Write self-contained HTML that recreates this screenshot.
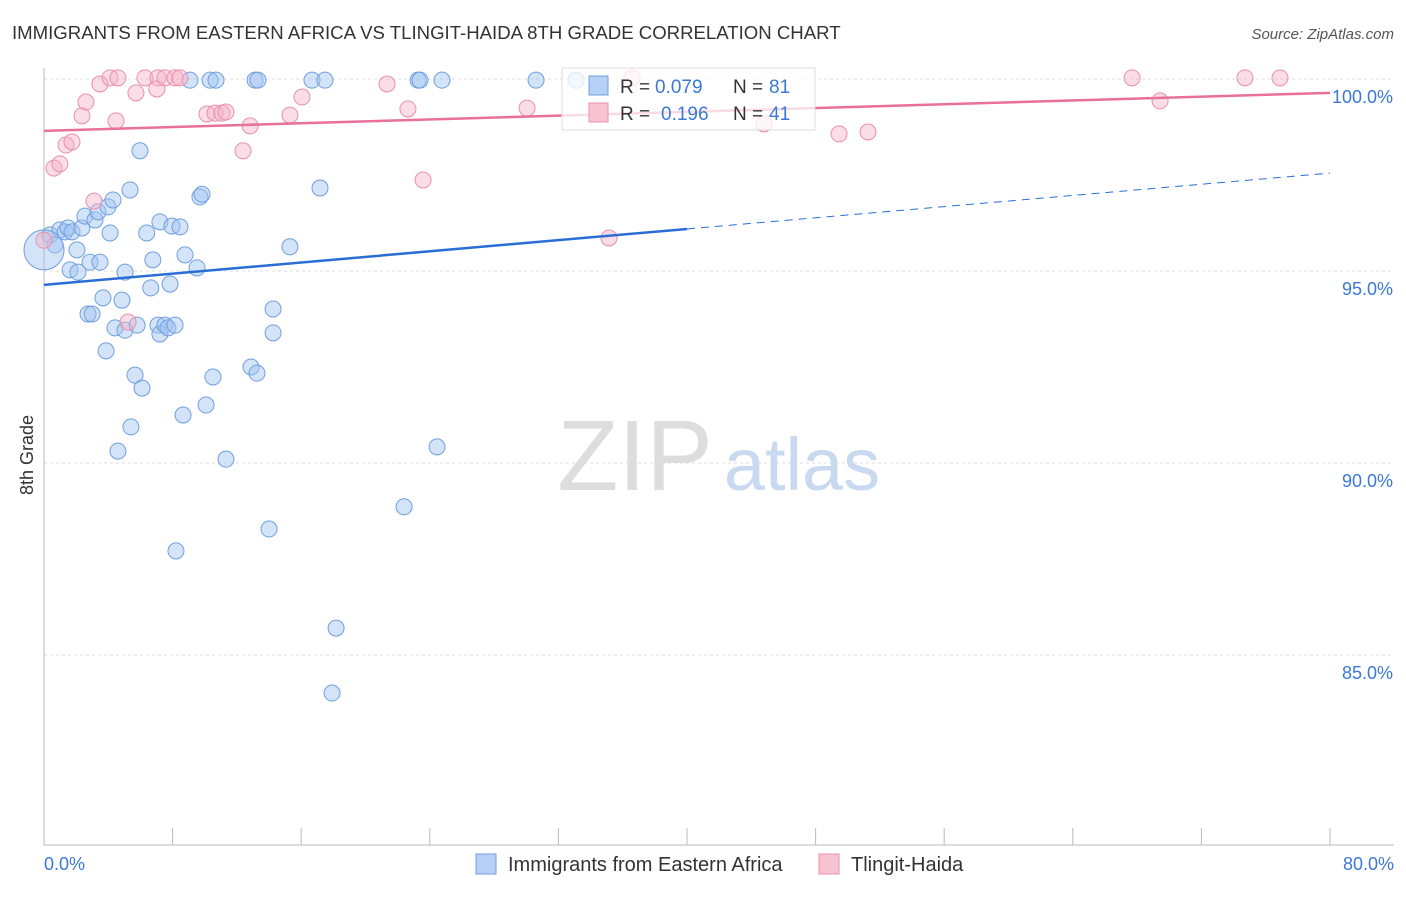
<!DOCTYPE html>
<html><head><meta charset="utf-8"><style>
body{margin:0;background:#fff;font-family:"Liberation Sans",sans-serif;}
svg text{font-family:"Liberation Sans",sans-serif;}
</style></head><body>
<svg id="chart" width="1406" height="892">
<text x="12" y="39" font-size="18.6" fill="#333">IMMIGRANTS FROM EASTERN AFRICA VS TLINGIT-HAIDA 8TH GRADE CORRELATION CHART</text>
<text x="1394" y="39" font-size="15" fill="#555" font-style="italic" text-anchor="end">Source: ZipAtlas.com</text>
<text x="33" y="455" font-size="18" fill="#333" transform="rotate(-90 33 455)" text-anchor="middle">8th Grade</text>
<g id="grid"></g>
<g><text x="635" y="490" font-size="100" fill="#ddd" font-family="Liberation Serif" text-anchor="middle">ZIP</text><text x="802" y="490" font-size="74" fill="#c9daf0" text-anchor="middle">atlas</text></g>
<g id="points"></g>
<g id="lines"></g>
<g>
<rect x="562" y="68" width="253" height="62" fill="#fff" fill-opacity="0.75" stroke="#ddd"/>
<rect x="589" y="76" width="19" height="19" fill="#b6d0f5" stroke="#6f9fe0"/>
<text x="620" y="93" font-size="19" fill="#333">R =</text>
<text x="655" y="93" font-size="19" fill="#3b78d8">0.079</text>
<text x="733" y="93" font-size="19" fill="#333">N =</text>
<text x="769" y="93" font-size="19" fill="#3b78d8">81</text>
<rect x="589" y="103" width="19" height="19" fill="#f8c4d2" stroke="#eb8fac"/>
<text x="620" y="120" font-size="19" fill="#333">R =</text>
<text x="661" y="120" font-size="19" fill="#3b78d8">0.196</text>
<text x="733" y="120" font-size="19" fill="#333">N =</text>
<text x="769" y="120" font-size="19" fill="#3b78d8">41</text>
</g>
<g>
<rect x="476" y="854" width="20" height="20" fill="#b6d0f5" stroke="#6f9fe0"/>
<text x="508" y="871" font-size="20" fill="#333">Immigrants from Eastern Africa</text>
<rect x="819" y="854" width="20" height="20" fill="#f8c4d2" stroke="#eb8fac"/>
<text x="851" y="871" font-size="20" fill="#333">Tlingit-Haida</text>
</g>
</svg>
<script>
const yTicks=[100,95,90,85];
const yTickLabels=["100.0%","95.0%","90.0%","85.0%"];
const xTickLabels=["0.0%","80.0%"];
const blueX=[0.37,0.68,0.99,1.31,1.49,1.74,1.62,2.05,2.11,2.36,2.55,3.17,3.36,2.86,3.48,3.98,4.29,4.11,5.35,5.97,3.67,4.85,5.04,2.74,2.99,4.42,5.04,5.79,3.86,5.66,6.10,5.41,4.60,6.39,6.77,6.64,7.21,7.09,7.21,7.52,7.71,8.15,7.84,7.96,8.46,8.77,9.52,9.70,9.83,9.08,10.33,10.70,13.13,13.31,16.67,17.48,23.27,23.39,24.76,30.61,33.1,15.30,17.17,14.25,14.25,12.88,13.25,10.51,10.08,8.65,11.32,8.21,14.0,22.40,24.45,18.17,17.92,0];
const blueY=[95.94,95.68,96.07,96.02,96.12,96.02,95.03,95.55,94.97,96.12,96.43,96.33,96.54,95.23,95.23,96.67,96.85,95.99,97.11,98.13,94.30,94.24,94.97,93.88,93.88,93.52,93.46,93.59,92.92,92.29,91.95,90.94,90.31,95.99,95.29,94.56,96.28,93.59,93.36,93.59,93.52,93.59,94.66,96.17,96.15,95.42,95.08,96.93,97.00,99.97,99.97,99.97,99.97,99.97,99.97,99.97,99.97,99.97,99.97,99.97,99.97,95.63,97.16,94.01,93.39,92.50,92.34,92.24,91.51,91.25,90.10,87.71,88.28,88.86,90.42,85.70,84.01,95.55];
const pinkX=[0.62,0.99,1.37,1.74,2.36,2.61,3.11,3.48,4.11,4.60,4.48,5.72,5.23,6.28,7.09,7.02,7.52,8.15,8.46,10.14,10.64,11.07,11.32,12.82,12.38,15.30,16.05,21.34,22.64,23.58,30.05,35.15,36.58,44.79,49.46,51.26,67.69,69.43,74.71,76.89,0];
const pinkY=[97.68,97.79,98.28,98.36,99.04,99.40,96.82,99.87,100.03,100.03,98.91,99.64,93.67,100.03,100.03,99.74,100.03,100.03,100.03,99.09,99.11,99.11,99.14,98.78,98.13,99.06,99.53,99.87,99.22,97.37,99.24,95.86,100.03,98.83,98.57,98.62,100.03,99.43,100.03,100.03,95.8];
const blueTrend=[94.64,97.55];
const pinkTrend=[98.65,99.64];
const NS="http://www.w3.org/2000/svg";
const X=v=>44+v/80*1286, Y=v=>79+(100-v)/5*192;
function mk(t,a,p){const e=document.createElementNS(NS,t);for(const k in a)e.setAttribute(k,a[k]);p.appendChild(e);return e;}
const g=document.getElementById('grid');
yTicks.forEach((t,i)=>{
 const l=mk('line',{x1:44,x2:1394,y1:Y(t),y2:Y(t),stroke:'#ddd','stroke-dasharray':'3,3'},g);
 
 
 const tx=mk('text',{x:1393,y:Y(t)+24,'font-size':18,fill:'#3b78d8','text-anchor':'end'},g);tx.textContent=yTickLabels[i];
 
 
});
mk('line',{x1:44,x2:44,y1:68,y2:845,stroke:'#bbb'},g);
mk('line',{x1:44,x2:1394,y1:845,y2:845,stroke:'#bbb'},g);
for(let i=0;i<=10;i++){const t=mk('line',{x1:X(i*8),x2:X(i*8),y1:828,y2:845,stroke:'#bbb'},g);
 
 }
[[0,'start',44],[80,'end',1394]].forEach((d,i)=>{const tx=mk('text',{x:d[2],y:870,'font-size':18,fill:'#3b78d8','text-anchor':d[1]},g);tx.textContent=xTickLabels[i];
 
 });
const p=document.getElementById('points');
blueX.forEach((x,i)=>{const c=mk('circle',{cx:X(x),cy:Y(blueY[i]),r:i==blueX.length-1?20:8,fill:'rgba(160,195,240,0.45)',stroke:'#6f9fe0','stroke-width':1},p);
 
 });
pinkX.forEach((x,i)=>{const c=mk('circle',{cx:X(x),cy:Y(pinkY[i]),r:8,fill:'rgba(245,180,200,0.45)',stroke:'#eb8fac','stroke-width':1},p);
 
 });
const L=document.getElementById('lines');
const bm=blueTrend[0]+(blueTrend[1]-blueTrend[0])/2;
let a=mk('line',{x1:X(0),y1:Y(blueTrend[0]),x2:X(40),y2:Y(bm),stroke:'#2a6dd6','stroke-width':2.5},L);


a=mk('line',{x1:X(40),y1:Y(bm),x2:X(80),y2:Y(blueTrend[1]),stroke:'#2a6dd6','stroke-width':1,'stroke-dasharray':'8,6'},L);


a=mk('line',{x1:X(0),y1:Y(pinkTrend[0]),x2:X(80),y2:Y(pinkTrend[1]),stroke:'#e8709a','stroke-width':2.5},L);


</script>
</body></html>
